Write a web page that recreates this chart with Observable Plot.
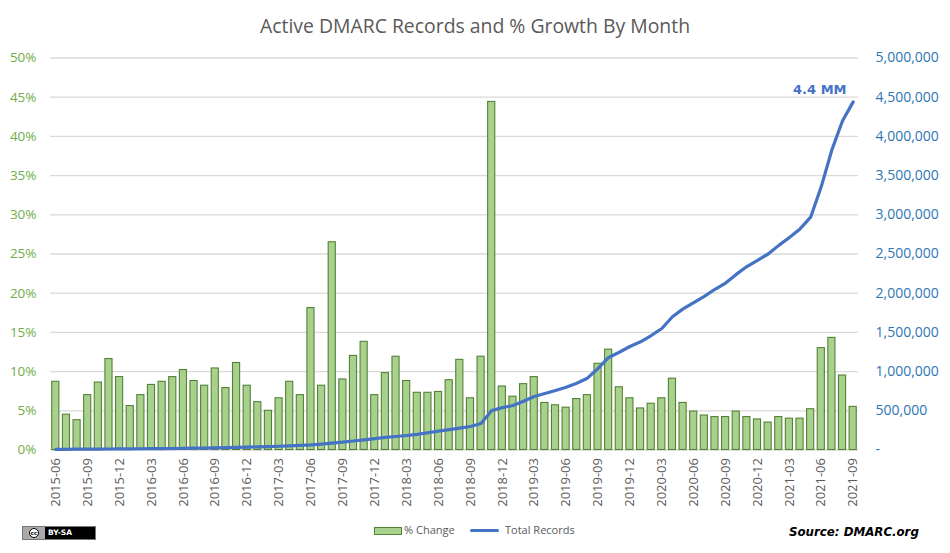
<!DOCTYPE html>
<html>
<head>
<meta charset="utf-8">
<script src="https://cdn.jsdelivr.net/npm/d3@7"></script>
<script src="https://cdn.jsdelivr.net/npm/@observablehq/plot@0.6"></script>
<style>
html,body{margin:0;padding:0;background:#fff;width:950px;height:553px;overflow:hidden}
#title{height:40px;box-sizing:border-box;padding-top:13px;text-align:center;font:19.4px/26px "Open Sans",sans-serif;color:#595959}
#chart{height:470px}
#chart svg{display:block;background:none}
#footer{position:relative;height:43px;font-family:"Open Sans",sans-serif;font-size:11px;color:#595959}
#footer>*{position:absolute}
.sw{left:374px;top:17px;width:26px;height:6px;background:#a9d18e;border:1px solid #548235}
.ln{left:470px;top:19px;width:29px;height:3px;background:#4472c4;border-radius:2px}
.lt{top:12px;line-height:16px}
.src{left:789px;top:14px;font:italic bold 11.8px/16px "DejaVu Sans",sans-serif;color:#000}
.cc{left:22px;top:16px;width:72px;height:12px;border:1px solid #777;background:#000;color:#fff;font:bold 7.5px/12px "DejaVu Sans",sans-serif;display:flex}
.cc .l{width:22px;background:#aaa;display:flex;align-items:center;justify-content:center}
.cc .l span{display:block;width:10px;height:10px;box-sizing:border-box;border:1px solid #000;border-radius:50%;background:#fff;color:#000;font:bold 5.5px/8px "DejaVu Sans",sans-serif;text-align:center}
.cc .r{padding-left:3px}
</style>
</head>
<body>
<div id="title">Active DMARC Records and % Growth By Month</div>
<div id="chart"></div>
<div id="footer">
  <div class="cc"><span class="l"><span>cc</span></span><span class="r">BY-SA</span></div>
  <div class="sw"></div><div class="lt" style="left:404px">% Change</div>
  <div class="ln"></div><div class="lt" style="left:505px">Total Records</div>
  <div class="src">Source: DMARC.org</div>
</div>
<script>
const months = ["2015-06","2015-07","2015-08","2015-09","2015-10","2015-11","2015-12",
"2016-01","2016-02","2016-03","2016-04","2016-05","2016-06","2016-07","2016-08","2016-09","2016-10","2016-11","2016-12",
"2017-01","2017-02","2017-03","2017-04","2017-05","2017-06","2017-07","2017-08","2017-09","2017-10","2017-11","2017-12",
"2018-01","2018-02","2018-03","2018-04","2018-05","2018-06","2018-07","2018-08","2018-09","2018-10","2018-11","2018-12",
"2019-01","2019-02","2019-03","2019-04","2019-05","2019-06","2019-07","2019-08","2019-09","2019-10","2019-11","2019-12",
"2020-01","2020-02","2020-03","2020-04","2020-05","2020-06","2020-07","2020-08","2020-09","2020-10","2020-11","2020-12",
"2021-01","2021-02","2021-03","2021-04","2021-05","2021-06","2021-07","2021-08","2021-09"];
const pctChange = [8.7,4.5,3.8,7.0,8.6,11.6,9.3,
5.6,7.0,8.3,8.7,9.3,10.2,8.8,8.2,10.4,7.9,11.1,8.2,
6.1,5.0,6.6,8.7,7.0,18.1,8.2,26.5,9.0,12.0,13.8,7.0,
9.8,11.9,8.8,7.3,7.3,7.4,8.9,11.5,6.6,11.9,44.4,8.1,
6.8,8.4,9.3,6.0,5.7,5.4,6.5,7.0,11.0,12.8,8.0,6.6,
5.3,5.9,6.6,9.1,6.0,4.9,4.4,4.2,4.2,4.9,4.2,3.9,
3.5,4.2,4.0,4.0,5.2,13.0,14.3,9.5,5.5];
const totalRecords = [8000,9000,10000,11000,12000,13000,14000,
15000,16000,17000,18000,19000,21000,23000,25000,28000,30000,33000,36000,
40000,44000,48000,53000,59000,66000,76000,88000,100000,115000,130000,145000,
160000,172000,185000,200000,220000,240000,260000,280000,300000,338000,504000,540000,
567000,622000,682000,720000,760000,800000,852000,916000,1040000,1180000,1247000,1320000,
1380000,1460000,1550000,1700000,1800000,1880000,1960000,2050000,2130000,2240000,2340000,2420000,
2500000,2610000,2710000,2820000,2970000,3360000,3830000,4200000,4440000];
const pctTicks = [0,5,10,15,20,25,30,35,40,45,50];
const recordTicks = [0,500000,1000000,1500000,2000000,2500000,3000000,3500000,4000000,4500000,5000000];
const monthTicks = months.filter((d,i)=>i%3===0);
const peakLabel = "4.4 MM";

const rows = months.map((m,i)=>({month:m,pct:pctChange[i],total:totalRecords[i]}));
const scaleRatio = 50/5000000;
const font = '"Open Sans",sans-serif';

const plot = Plot.plot({
  width:950,height:470,
  marginTop:17.5,marginBottom:60.5,marginLeft:50,marginRight:92,
  style:{fontFamily:font,background:"transparent",overflow:"visible"},
  x:{type:"band",domain:months,paddingInner:0.33,paddingOuter:0.165,round:false,label:null},
  y:{type:"linear",domain:[0,50],label:null},
  marks:[
    Plot.ruleY(pctTicks,{stroke:"#d9d9d9",strokeWidth:1.3}),
    Plot.barY(rows,{x:"month",y:"pct",fill:"#a9d18e",stroke:"#548235",strokeWidth:1.1}),
    Plot.line(rows,{x:"month",y:d=>d.total*scaleRatio,stroke:"#4472c4",strokeWidth:3.2,curve:"linear",strokeLinejoin:"round"}),
    Plot.axisY(pctTicks,{anchor:"left",tickSize:0,tickPadding:14,tickFormat:d=>d+"%",color:"#70ad47",fontSize:13.5,label:null}),
    Plot.axisY(recordTicks.map(d=>d*scaleRatio),{anchor:"right",tickSize:0,tickPadding:17,
      tickFormat:d=>{const v=Math.round(d/scaleRatio);return v===0?"-":d3.format(",")(v);},
      color:"#2e75b6",fontSize:14,label:null}),
    Plot.axisX(monthTicks,{anchor:"bottom",tickSize:0,tickPadding:8,tickRotate:-90,color:"#595959",fontSize:13,label:null}),
    Plot.text([peakLabel],{x:()=>"2021-06",y:()=>46,dx:-1.5,text:d=>d,fill:"#4472c4",fontWeight:"bold",fontSize:13,fontFamily:'"DejaVu Sans",sans-serif'})
  ]
});
document.getElementById("chart").appendChild(plot);
</script>
</body>
</html>
